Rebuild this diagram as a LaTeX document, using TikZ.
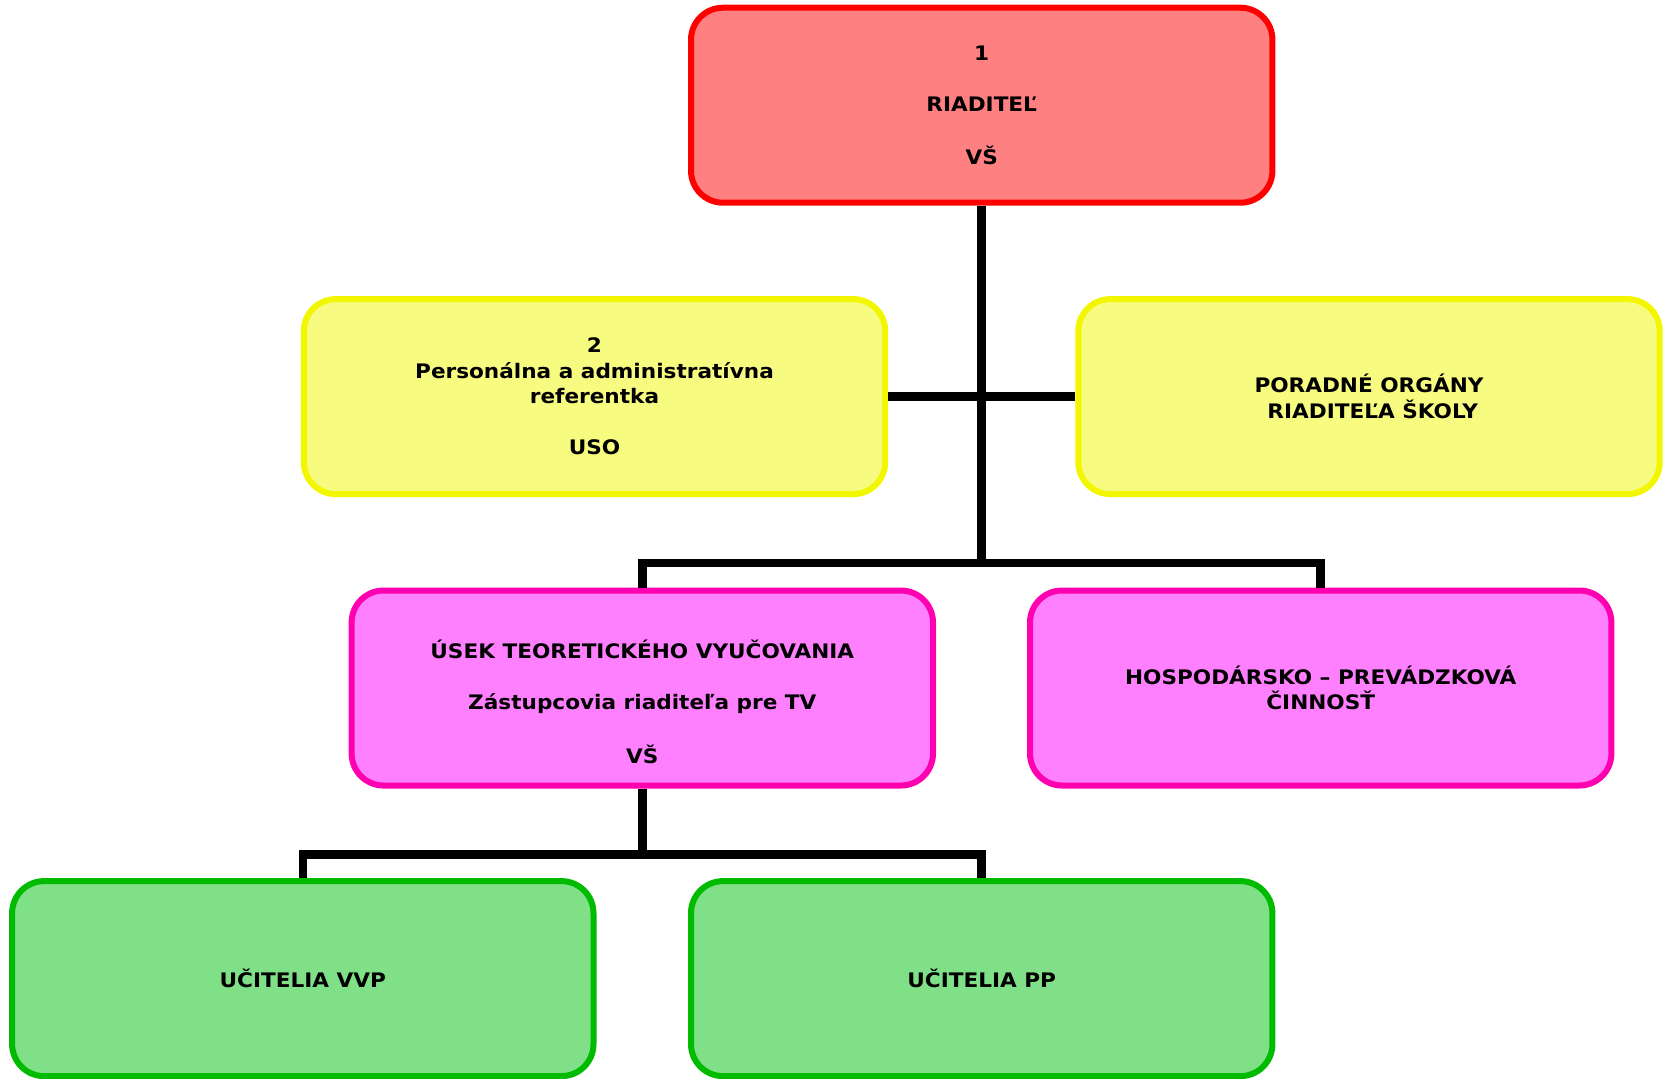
\documentclass[tikz,border=0pt]{standalone}
\usepackage{fontspec}
\setmainfont{DejaVu Sans}[FakeStretch=1.08]
\usetikzlibrary{positioning}
\definecolor{redfill}{RGB}{255,128,128}
\definecolor{redline}{RGB}{255,0,0}
\definecolor{yelfill}{RGB}{247,251,128}
\definecolor{yelline}{RGB}{242,247,0}
\definecolor{magfill}{RGB}{255,128,255}
\definecolor{magline}{RGB}{255,0,176}
\definecolor{grnfill}{RGB}{128,224,136}
\definecolor{grnline}{RGB}{0,187,0}

\begin{document}
\begin{tikzpicture}[x=0.5pt,y=-0.5pt,
  box/.style={rectangle,rounded corners=16pt,line width=3pt,
    minimum width=290.7pt,minimum height=97.5pt,inner sep=0pt,align=center,
    font=\fontsize{10}{12.75}\selectfont\bfseries},
  redbox/.style={box,draw=redline,fill=redfill},
  yelbox/.style={box,draw=yelline,fill=yelfill},
  magbox/.style={box,draw=magline,fill=magfill},
  grnbox/.style={box,draw=grnline,fill=grnfill},
  conn/.style={line width=4.25pt,black}]
\useasboundingbox (0,0) rectangle (1665,1078);

%Director
\node[redbox] (riad) at (981.7,105.2) {1\\\strut\\RIADITEĽ\\\strut\\VŠ};

%Staff and advisory
\node[yelbox] (pers) at (594.5,396.6) {2\\Personálna a administratívna\\referentka\\\strut\\USO};
\node[yelbox] (porad) at (1369,396.6) {PORADNÉ ORGÁNY~\\~RIADITEĽA ŠKOLY};

%Sections
\node[magbox] (utv) at (642.3,688) {\strut\\ÚSEK TEORETICKÉHO VYUČOVANIA\\\strut\\Zástupcovia riaditeľa pre TV\\\strut\\VŠ};
\node[magbox] (hpc) at (1320.7,688) {HOSPODÁRSKO – PREVÁDZKOVÁ\\ČINNOSŤ};

%Teachers
\node[grnbox] (vvp) at (302.8,978.6) {UČITELIA VVP};
\node[grnbox] (pp) at (981.7,978.6) {UČITELIA PP};

%Lines
\coordinate (split) at (981.7,563);
\coordinate (split2) at (642.3,854.3);
\draw[conn] (riad.south) -- (split);
\draw[conn] (pers.east) -- (pers.east -| porad.west);
\draw[conn] (utv.north) |- (split) -| (hpc.north);
\draw[conn] (utv.south) -- (split2);
\draw[conn] (vvp.north) |- (split2) -| (pp.north);

\end{tikzpicture}
\end{document}
